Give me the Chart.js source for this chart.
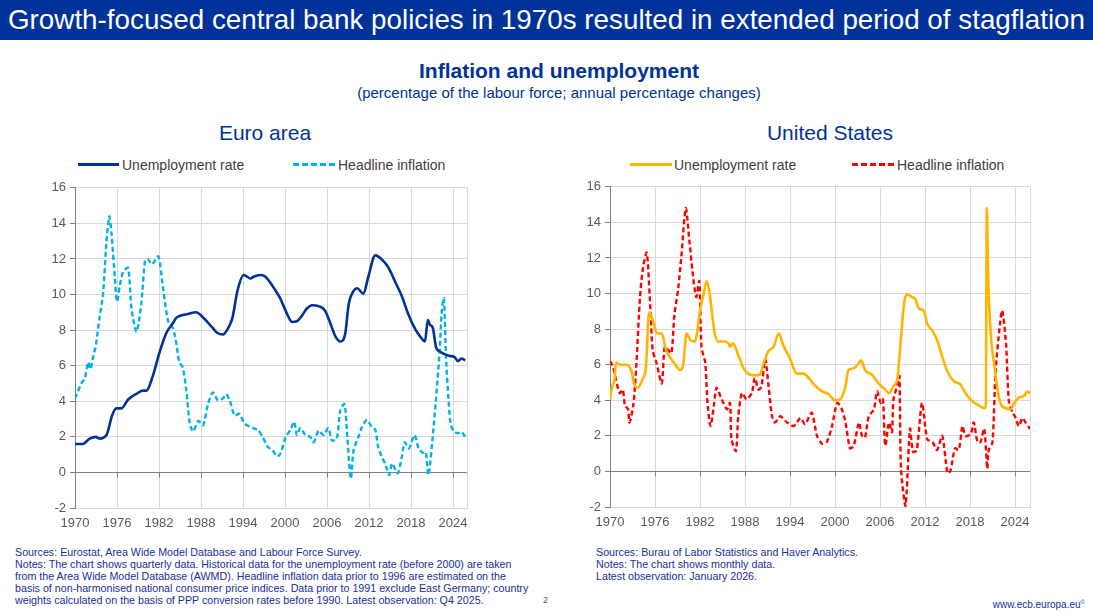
<!DOCTYPE html>
<html>
<head>
<meta charset="utf-8">
<script src="https://cdn.jsdelivr.net/npm/chart.js@4.4.1/dist/chart.umd.min.js"></script>
<style>
  html, body { margin:0; padding:0; background:#fff; width:1093px; height:616px; overflow:hidden; font-family:"Liberation Sans", Arial, sans-serif; }
  .abs { position:absolute; white-space:nowrap; }
  #header { position:absolute; left:0; top:0; width:1093px; height:40px; background:#003299; }
  #headerText { position:absolute; left:0; width:1093px; top:3px; text-align:center; color:#fff; font-size:27px; line-height:34px; }
  .ttl { color:#003299; text-align:center; }
  .leg { position:absolute; font-size:14px; color:#404040; line-height:16px; }
  .legline { position:absolute; height:0; }
  .note { position:absolute; font-size:10.7px; line-height:12px; color:#1a2e9c; white-space:nowrap; }
  canvas { position:absolute; }
</style>
</head>
<body>
<div id="header"><div id="headerText">Growth-focused central bank policies in 1970s resulted in extended period of stagflation</div></div>
<div class="abs ttl" style="left:259px;width:600px;top:59px;font-size:21px;font-weight:bold;">Inflation and unemployment</div>
<div class="abs ttl" style="left:259px;width:600px;top:84px;font-size:15px;">(percentage of the labour force; annual percentage changes)</div>
<div class="abs ttl" style="left:165px;width:200px;top:121px;font-size:21px;">Euro area</div>
<div class="abs ttl" style="left:730px;width:200px;top:121px;font-size:21px;">United States</div>

<div class="legline" style="left:78px;top:163px;width:41px;border-top:3px solid #003299;"></div>
<div class="leg" style="left:122px;top:157px;">Unemployment rate</div>
<div class="legline" style="left:293px;top:163px;width:42px;border-top:3px dashed #00b1ea;"></div>
<div class="leg" style="left:338px;top:157px;">Headline inflation</div>
<div class="legline" style="left:630px;top:163px;width:42px;border-top:3px solid #ffb400;"></div>
<div class="leg" style="left:674px;top:157px;">Unemployment rate</div>
<div class="legline" style="left:852px;top:163px;width:42px;border-top:3px dashed #ff0000;"></div>
<div class="leg" style="left:897px;top:157px;">Headline inflation</div>

<canvas id="ea" width="455" height="360" style="left:20px;top:176px;width:455px;height:360px;"></canvas>
<canvas id="us" width="483" height="360" style="left:555px;top:175px;width:483px;height:360px;"></canvas>

<div class="note" style="left:15px;top:546px;">Sources: Eurostat, Area Wide Model Database and Labour Force Survey.<br>Notes: The chart shows quarterly data. Historical data for the unemployment rate (before 2000) are taken<br>from the Area Wide Model Database (AWMD). Headline inflation data prior to 1996 are estimated on the<br>basis of non-harmonised national consumer price indices. Data prior to 1991 exclude East Germany; country<br>weights calculated on the basis of PPP conversion rates before 1990. Latest observation: Q4 2025.</div>
<div class="abs" style="left:543px;top:595px;font-size:9px;color:#555;">2</div>
<div class="note" style="left:596px;top:546px;">Sources: Burau of Labor Statistics and Haver Analytics.<br>Notes: The chart shows monthly data.<br>Latest observation: January 2026.</div>
<div class="abs" style="left:985px;width:100px;text-align:right;top:599px;font-size:10px;color:#1a2e9c;">www.ecb.europa.eu<sup style="font-size:6px;">©</sup></div>

<script>
// ---------- DATA ----------
const xTickYears = [1970, 1976, 1982, 1988, 1994, 2000, 2006, 2012, 2018, 2024, 2026];
const yTickValues = [-2, 0, 2, 4, 6, 8, 10, 12, 14, 16];

const eaUnemployment = [
 [1970,1.6],[1971.1,1.6],[1972.1,1.9],[1973,2.0],[1973.5,1.9],[1974.5,2.1],[1975.3,3.2],[1975.9,3.6],
 [1976.6,3.6],[1977.6,4.1],[1978.7,4.4],[1979.7,4.6],[1980.2,4.6],[1981.1,5.4],[1982,6.65],[1983,7.8],
 [1984,8.4],[1984.5,8.7],[1985.2,8.83],[1986.1,8.9],[1987.3,9.0],[1988.2,8.75],[1989.6,8.15],[1990.3,7.85],
 [1991.1,7.75],[1992,8.2],[1992.5,8.7],[1993.2,10.2],[1994.1,11.1],[1995.1,10.9],[1995.5,11.0],[1996.5,11.1],
 [1997.2,11.0],[1998.1,10.55],[1999.3,9.8],[2000.3,8.9],[2001,8.46],[2001.7,8.5],[2002.4,8.8],[2003.1,9.2],
 [2003.9,9.4],[2004.8,9.35],[2005.7,9.1],[2006.7,8.15],[2007.2,7.65],[2007.9,7.36],[2008.6,7.8],[2009.1,9.45],
 [2009.8,10.2],[2010.3,10.35],[2011.2,10.05],[2011.9,11.0],[2012.9,12.2],[2013.3,12.15],[2014,11.9],[2014.8,11.5],
 [2015.7,10.75],[2016.7,9.9],[2017.6,8.9],[2018.6,8.05],[2019.3,7.65],[2020,7.36],[2020.4,8.57],[2020.7,8.3],
 [2021.1,8.15],[2021.6,7.0],[2022.1,6.8],[2022.8,6.65],[2023.5,6.55],[2024.2,6.5],[2024.7,6.25],[2025.2,6.4],[2025.75,6.3]
];
const eaInflation = [
 [1970,4.15],[1970.9,5.0],[1971.4,5.3],[1971.9,6.2],[1972.2,5.8],[1972.6,6.5],[1973,7.2],[1973.5,8.7],[1974,10.0],
 [1974.5,13.0],[1974.9,14.4],[1975.2,13.5],[1975.7,10.9],[1976,9.6],[1976.4,10.5],[1976.9,11.3],[1977.6,11.5],
 [1978.1,9.1],[1978.8,7.9],[1979.5,9.6],[1980,11.9],[1980.4,12.0],[1981,11.7],[1981.9,12.15],[1982.5,10.6],
 [1983.3,8.5],[1984,8.1],[1984.5,7.2],[1984.9,6.2],[1985.4,5.9],[1985.9,4.6],[1986.4,2.75],[1986.9,2.3],
 [1987.6,2.9],[1988.3,2.65],[1989,3.85],[1989.7,4.5],[1990.4,4.05],[1991.1,4.15],[1991.6,4.4],[1992.1,4.05],
 [1992.8,3.2],[1993.5,3.3],[1994.2,2.75],[1995.4,2.5],[1996.1,2.4],[1996.8,2.0],[1997.5,1.45],[1998.2,1.25],
 [1998.9,0.9],[1999.4,1.1],[2000.1,2.0],[2000.8,2.4],[2001.3,2.85],[2001.7,2.1],[2002.2,2.5],[2002.9,2.1],
 [2003.6,2.0],[2004.1,1.7],[2004.8,2.35],[2005.5,2.1],[2006.2,2.5],[2006.7,1.8],[2007.4,1.9],[2007.9,3.5],
 [2008.5,3.85],[2008.9,2.0],[2009.4,-0.35],[2009.8,1.25],[2010.5,2.0],[2011,2.55],[2011.7,2.95],[2012.4,2.55],
 [2012.9,2.4],[2013.3,1.45],[2013.8,0.9],[2014.3,0.5],[2014.9,-0.15],[2015.3,0.5],[2016.1,-0.05],[2016.7,0.9],
 [2017.1,1.7],[2017.7,1.35],[2018.5,2.1],[2019.1,1.35],[2019.7,1.1],[2020.1,1.15],[2020.5,-0.15],[2021.1,2.0],
 [2021.6,4.25],[2022.1,6.85],[2022.4,9.1],[2022.7,9.8],[2023,6.45],[2023.4,3.85],[2023.7,2.65],[2024.2,2.3],
 [2024.7,2.2],[2025.2,2.3],[2025.75,2.0]
];
const usUnemployment = [
 [1970,4.05],[1970.3,4.8],[1970.6,5.15],[1970.8,6.1],[1971.5,6.0],[1972.2,6.0],[1972.9,5.6],[1973.2,4.95],
 [1973.7,4.7],[1974.4,5.25],[1974.8,5.9],[1975.1,8.5],[1975.3,8.95],[1975.7,8.5],[1976.3,7.75],[1976.9,7.75],
 [1977.5,6.8],[1978.2,6.3],[1978.9,5.9],[1979.3,5.7],[1979.8,6.1],[1980.2,7.75],[1980.7,7.4],[1981.3,7.3],
 [1981.6,7.75],[1982,9.05],[1982.4,9.8],[1982.9,10.7],[1983.3,9.95],[1983.9,7.9],[1984.4,7.3],[1985.1,7.3],
 [1985.8,7.2],[1986,7.0],[1986.4,7.2],[1987.1,6.55],[1987.8,5.8],[1988.4,5.5],[1989.3,5.4],[1990,5.45],
 [1990.5,6.1],[1991.1,6.75],[1991.8,7.0],[1992.5,7.75],[1993.1,7.1],[1994,6.35],[1994.9,5.5],[1995.8,5.5],
 [1996.5,5.25],[1997.4,4.8],[1998.3,4.5],[1999.1,4.35],[2000,4.0],[2000.7,4.05],[2001.4,4.8],[2001.8,5.7],
 [2002.5,5.8],[2003.2,6.1],[2003.5,6.25],[2004,5.7],[2004.9,5.45],[2005.8,4.95],[2006.7,4.6],[2007.2,4.4],
 [2007.8,4.8],[2008.3,5.15],[2008.7,7.0],[2009.2,9.4],[2009.6,9.95],[2010.3,9.8],[2010.7,9.7],[2011.2,9.15],
 [2011.8,9.05],[2012.3,8.3],[2013,7.9],[2013.6,7.4],[2014.3,6.45],[2015,5.6],[2015.9,5.05],[2016.7,4.9],
 [2017.4,4.4],[2018.3,3.95],[2019.2,3.7],[2019.9,3.55],[2020.1,3.65],[2020.25,14.8],[2020.4,11.25],[2020.8,7.55],
 [2021.2,6.1],[2021.6,4.8],[2022.1,3.8],[2022.8,3.55],[2023.4,3.5],[2023.9,3.85],[2024.5,4.15],[2025.2,4.25],
 [2025.7,4.5],[2026,4.35]
];
const usInflation = [
 [1970,6.2],[1970.4,5.9],[1970.8,5.15],[1971.3,4.4],[1971.7,4.6],[1972,3.7],[1972.4,3.5],[1972.6,2.75],
 [1973.1,3.7],[1973.5,5.9],[1974,9.8],[1974.4,11.45],[1974.9,12.3],[1975.3,9.8],[1975.7,6.8],[1976.2,6.1],
 [1976.9,4.95],[1977.3,7.0],[1977.8,6.8],[1978.2,6.65],[1978.6,8.85],[1979.1,10.3],[1979.5,12.0],[1980.1,14.8],
 [1980.6,12.9],[1981,11.25],[1981.5,9.8],[1981.9,10.7],[1982.2,7.0],[1982.7,6.1],[1983,3.85],[1983.4,2.55],
 [1983.9,3.85],[1984.2,4.7],[1984.9,4.05],[1985.6,3.5],[1986,3.85],[1986.2,1.8],[1986.8,1.15],[1987.1,3.1],
 [1987.6,4.4],[1988.2,4.05],[1988.9,4.4],[1989.3,5.25],[1989.8,4.6],[1990.2,4.8],[1990.7,6.3],[1991.1,4.95],
 [1991.6,3.1],[1992,2.75],[1992.7,3.1],[1993.6,2.75],[1994.5,2.55],[1995.4,3.0],[1996,2.65],[1996.9,3.3],
 [1997.6,2.0],[1998.3,1.55],[1998.9,1.65],[1999.6,2.55],[2000.3,3.85],[2000.9,3.5],[2001.4,2.75],[2002,1.3],
 [2002.5,1.45],[2003.2,2.75],[2003.6,2.0],[2004,1.9],[2004.5,3.1],[2005.2,3.5],[2005.6,4.5],[2006.1,3.85],
 [2006.4,4.05],[2006.7,1.45],[2007.2,2.75],[2007.6,2.2],[2007.8,4.05],[2008.4,4.95],[2008.6,5.35],[2008.8,0.15],
 [2009.4,-1.95],[2010,2.4],[2010.4,1.1],[2010.9,1.2],[2011.6,3.85],[2012.3,1.8],[2013,1.65],[2013.6,1.2],
 [2014.3,2.0],[2015,-0.1],[2015.4,0.05],[2016,1.3],[2016.5,1.2],[2017,2.55],[2017.4,2.0],[2018.1,2.1],
 [2018.5,2.75],[2019,1.65],[2019.4,1.65],[2019.9,2.4],[2020.3,0.15],[2020.5,1.2],[2021,1.65],[2021.4,5.55],
 [2022,8.3],[2022.3,9.05],[2022.8,7.2],[2023.2,3.85],[2023.7,3.3],[2024.1,3.0],[2024.5,2.55],[2025,3.0],
 [2025.4,2.75],[2026,2.4]
];

// ---------- helpers ----------
const FONT = '"Liberation Sans", Arial, sans-serif';
const toXY = arr => arr.map(p => ({x: p[0], y: p[1]}));

const zeroTicks = {
  id: 'zeroTicks',
  beforeDatasetsDraw(chart) {
    const xs = chart.scales.x, ys = chart.scales.y, ctx = chart.ctx;
    const y0 = Math.round(ys.getPixelForValue(0)) + 0.5;
    ctx.save();
    ctx.strokeStyle = '#808080';
    ctx.lineWidth = 1;
    ctx.beginPath();
    ctx.moveTo(xs.left, y0); ctx.lineTo(xs.right, y0);
    xTickYears.slice(0, -1).forEach(v => {
      const px = Math.round(xs.getPixelForValue(v)) + 0.5;
      ctx.moveTo(px, y0); ctx.lineTo(px, y0 + 5);
    });
    ctx.stroke();
    ctx.restore();
  }
};

function makeChart(id, unemp, infl, unempColor, inflColor, yWidth, padRight) {
  return new Chart(document.getElementById(id), {
    type: 'line',
    data: {
      datasets: [
        { label: 'Unemployment rate', data: toXY(unemp), borderColor: unempColor, borderWidth: 2.6,
          pointRadius: 0, fill: false, cubicInterpolationMode: 'monotone' },
        { label: 'Headline inflation', data: toXY(infl), borderColor: inflColor, borderWidth: 2.4,
          borderDash: [5, 3], pointRadius: 0, fill: false, tension: 0.25 }
      ]
    },
    options: {
      responsive: false, animation: false, devicePixelRatio: 1,
      layout: { padding: { top: 10, right: padRight, left: 0, bottom: 0 } },
      plugins: { legend: { display: false }, tooltip: { enabled: false } },
      scales: {
        x: {
          type: 'linear', min: 1970, max: 2026,
          afterBuildTicks: s => { s.ticks = xTickYears.map(v => ({ value: v })); },
          afterFit: s => { s.height = 28; },
          grid: { color: '#d9d9d9', lineWidth: 1, drawTicks: false },
          border: { color: '#d9d9d9', width: 1 },
          ticks: { color: '#595959', font: { family: FONT, size: 13 }, padding: 8, maxRotation: 0, autoSkip: false,
                   callback: v => (v === 2026 ? '' : String(v)) }
        },
        y: {
          min: -2, max: 16,
          afterBuildTicks: s => { s.ticks = yTickValues.map(v => ({ value: v })); },
          afterFit: s => { s.width = yWidth; },
          grid: { color: '#d9d9d9', lineWidth: 1, tickLength: 5, tickColor: '#808080' },
          border: { color: '#808080', width: 1 },
          ticks: { color: '#595959', font: { family: FONT, size: 13 }, padding: 4 }
        }
      }
    },
    plugins: [zeroTicks]
  });
}

makeChart('ea', eaUnemployment, eaInflation, '#003299', '#00b1ea', 55, 8);
makeChart('us', usUnemployment, usInflation, '#ffb400', '#ff0000', 55, 8);

// fit header text to width
(function () {
  const el = document.getElementById('headerText');
  const span = document.createElement('span');
  span.textContent = el.textContent; el.textContent = ''; el.appendChild(span);
  const target = 1077;
  const w = span.getBoundingClientRect().width;
  const fs = 27 * target / w;
  el.style.fontSize = fs.toFixed(2) + 'px';
})();
</script>
</body>
</html>
